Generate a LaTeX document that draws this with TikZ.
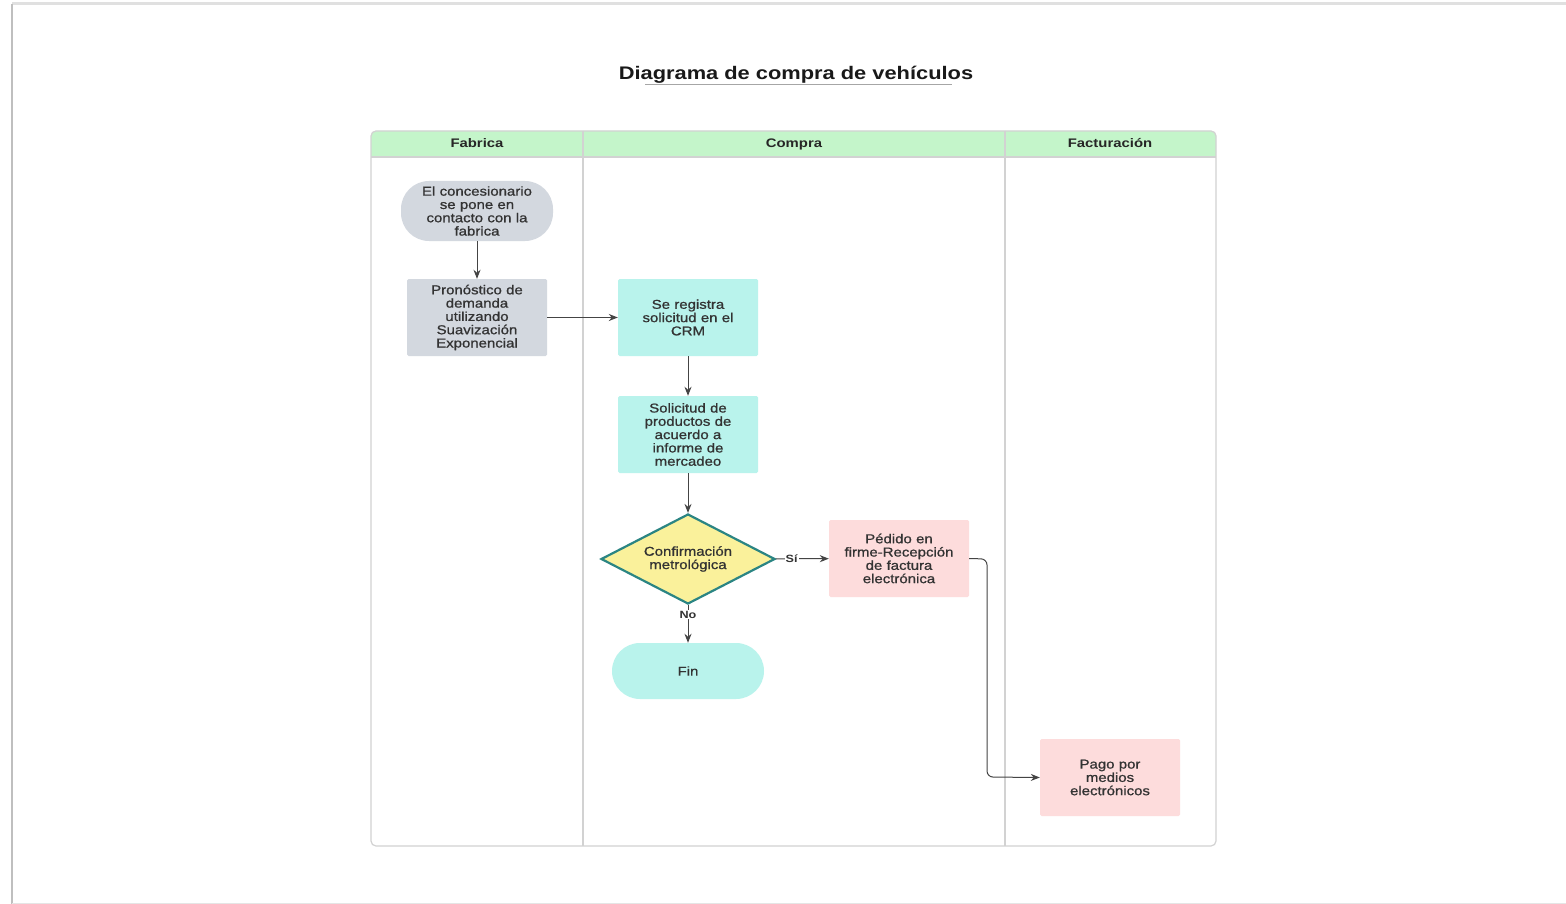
\documentclass[tikz,border=0pt]{standalone}
\usepackage{fontspec}
\setmainfont[FakeStretch=1.2]{Liberation Sans}
\newfontfamily\heavyfont[FakeStretch=1.16,FakeBold=0.9]{Liberation Sans}
\usetikzlibrary{shapes.geometric,arrows.meta}
\definecolor{lanegreen}{HTML}{C4F5CA}
\definecolor{laneline}{HTML}{D2D2D2}
\definecolor{greyfill}{HTML}{D3D8DF}
\definecolor{cyanfill}{HTML}{B9F3EC}
\definecolor{pinkfill}{HTML}{FDDCDC}
\definecolor{yellowfill}{HTML}{FAF19B}
\definecolor{tealline}{HTML}{2B8583}
\definecolor{inktext}{HTML}{333333}
\definecolor{wireline}{HTML}{444444}
\tikzset{
  nodetext/.style={font=\heavyfont\fontsize{12.9}{13.3}\selectfont, text=inktext, align=center},
  procbox/.style={nodetext, rectangle, rounded corners=1.5pt, minimum width=140pt, minimum height=77pt, text width=136pt, inner sep=0pt},
  pill/.style={nodetext, rectangle, rounded corners=28pt, minimum width=152pt, inner sep=0pt, text width=144pt},
  decision/.style={nodetext, diamond, draw=tealline, line width=2.2pt, fill=yellowfill, minimum width=174pt, minimum height=90pt, aspect=1.93, inner sep=0pt},
  flow/.style={draw=wireline, line width=1pt, -{Stealth[length=9pt,width=7pt]}},
  lanehead/.style={font=\fontsize{12.4}{15}\bfseries, text=black!85, text height=9pt, text depth=2.5pt},
  edgelabel/.style={font=\fontsize{10.5}{12}\bfseries, text=inktext, fill=white, inner sep=1pt}
}
\begin{document}
\begin{tikzpicture}[x=1pt,y=-1pt]
\useasboundingbox (0,0) rectangle (1566,904);
% page sheet
\fill[white] (0,0) rectangle (1566,904);
\draw[black!12, line width=3pt] (12,4) -- (1566,4);
\draw[black!25, line width=2.5pt] (12,4) -- (12,904);
\draw[black!10, line width=1pt] (12,903) -- (1566,903);

% title
\node[font=\fontsize{18.2}{20}\bfseries, text=black!90] (title) at (796,74.5) {Diagrama de compra de vehículos};
\draw[black!35, line width=0.8pt] (645,84) -- (952,84);

% swimlanes
\fill[lanegreen, rounded corners=4pt] (371,131) -- (1216,131) -- (1216,157) -- (371,157) -- cycle;
\fill[lanegreen] (371,145) rectangle (1216,157);
\draw[laneline, line width=1.2pt, rounded corners=5pt] (371,131) rectangle (1216,846);
\draw[laneline, line width=1.2pt] (371,157) -- (1216,157);
\draw[laneline, line width=1.2pt] (583,131) -- (583,846);
\draw[laneline, line width=1.2pt] (1005,131) -- (1005,846);
\node[lanehead] (hfab) at (477,144.5) {Fabrica};
\node[lanehead] (hcom) at (794,144.5) {Compra};
\node[lanehead] (hfac) at (1110,144.5) {Facturación};

% nodes
\node[pill, fill=greyfill, minimum height=60pt] (start) at (477,211) {El concesionario\\se pone en\\contacto con la\\fabrica};
\node[procbox, fill=greyfill] (fore) at (477,317.5) {Pronóstico de\\demanda\\utilizando\\Suavización\\Exponencial};
\node[procbox, fill=cyanfill] (crm) at (688,317.5) {Se registra\\solicitud en el\\CRM};
\node[procbox, fill=cyanfill] (req) at (688,434.5) {Solicitud de\\productos de\\acuerdo a\\informe de\\mercadeo};
\node[decision] (conf) at (688,559) {Confirmación\\metrológica};
\node[procbox, fill=pinkfill] (order) at (899,558.5) {Pédido en\\firme-Recepción\\de factura\\electrónica};
\node[pill, fill=cyanfill, minimum height=56pt] (fin) at (688,671) {Fin};
\node[procbox, fill=pinkfill] (pay) at (1110,777.5) {Pago por\\medios\\electrónicos};

% connectors
\draw[flow] (start) -- (fore);
\draw[flow] (fore) -- (crm);
\draw[flow] (crm) -- (req);
\draw[flow] (req) -- (conf);
\draw[flow] (conf) -- node[edgelabel, pos=0.3] {Sí} (order);
\draw[flow] (conf) -- node[edgelabel, pos=0.25] {No} (fin);
\coordinate (bendtop) at (987,559);
\coordinate (bendlow) at (987,777);
\draw[flow, rounded corners=6pt] (order.east) -- (bendtop) -- (bendlow) -- (pay.west);
\end{tikzpicture}
\end{document}
